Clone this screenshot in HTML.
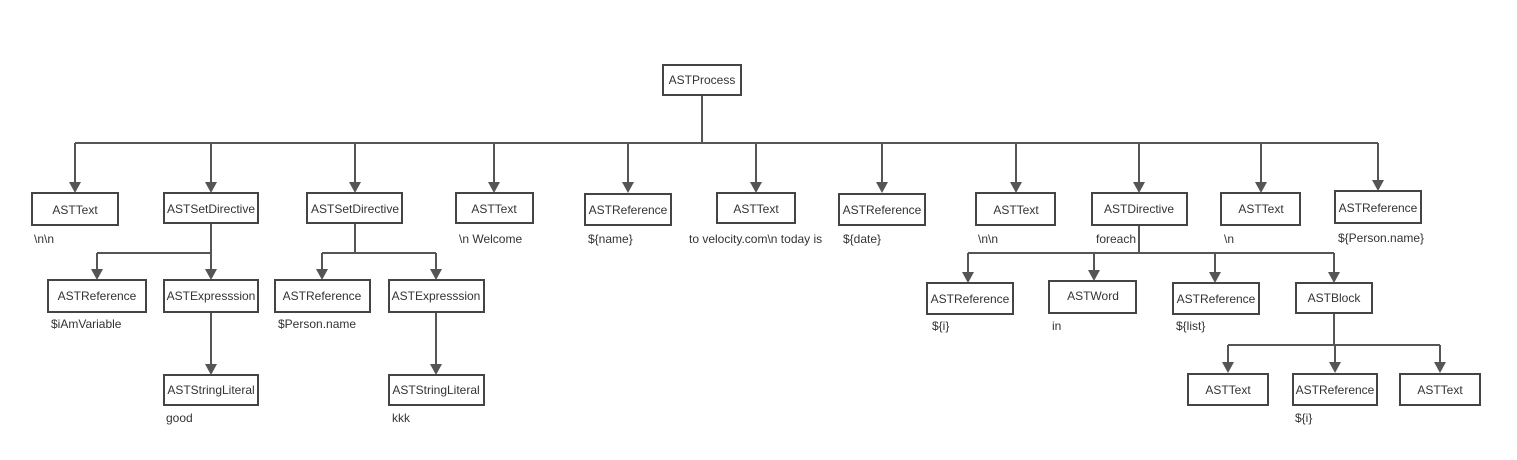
<!DOCTYPE html>
<html><head><meta charset="utf-8"><style>
html,body{margin:0;padding:0;background:#fff;}
svg{display:block;}
text{font-family:"Liberation Sans",sans-serif;font-size:12px;fill:#333;}
.b{fill:#fff;stroke:#444;stroke-width:2;}
.l{stroke:#555;stroke-width:2;fill:none;}
.a{fill:#555;}
</style></head><body>
<svg width="1517" height="460" viewBox="0 0 1517 460" xmlns="http://www.w3.org/2000/svg">
<!-- connectors -->
<g class="l">
<path d="M702 95V143M75 143H1378"/>
<path d="M75 143V183M211 143V183M355 143V183M494 143V183M628 143V183M756 143V183M882 143V183M1016 143V183M1139 143V183M1261 143V183M1378 143V181"/>
<path d="M211 223V253M97 253H211M97 253V270M211 253V270M211 312V365"/>
<path d="M355 223V253M322 253H436M322 253V270M436 253V270M436 312V365"/>
<path d="M1139 225V253M968 253H1334M968 253V273M1094 253V271M1215 253V273M1334 253V273"/>
<path d="M1334 313V345M1228 345H1440M1228 345V363M1335 345V363M1440 345V363"/>
</g>
<g class="a">
<path d="M69 182h12l-6 11z"/><path d="M205 182h12l-6 11z"/><path d="M349 182h12l-6 11z"/><path d="M488 182h12l-6 11z"/><path d="M622 182h12l-6 11z"/><path d="M750 182h12l-6 11z"/><path d="M876 182h12l-6 11z"/><path d="M1010 182h12l-6 11z"/><path d="M1133 182h12l-6 11z"/><path d="M1255 182h12l-6 11z"/><path d="M1372 180h12l-6 11z"/>
<path d="M91 269h12l-6 11z"/><path d="M205 269h12l-6 11z"/><path d="M205 364h12l-6 11z"/>
<path d="M316 269h12l-6 11z"/><path d="M430 269h12l-6 11z"/><path d="M430 364h12l-6 11z"/>
<path d="M962 272h12l-6 11z"/><path d="M1088 270h12l-6 11z"/><path d="M1209 272h12l-6 11z"/><path d="M1328 272h12l-6 11z"/>
<path d="M1222 362h12l-6 11z"/><path d="M1329 362h12l-6 11z"/><path d="M1434 362h12l-6 11z"/>
</g>
<!-- boxes -->
<rect class="b" x="663" y="65" width="78" height="30"/><text x="702" y="84" text-anchor="middle">ASTProcess</text>
<rect class="b" x="32" y="193" width="86" height="32"/><text x="75" y="214" text-anchor="middle">ASTText</text>
<rect class="b" x="164" y="193" width="94" height="30"/><text x="211" y="213" text-anchor="middle">ASTSetDirective</text>
<rect class="b" x="307" y="193" width="95" height="30"/><text x="355" y="213" text-anchor="middle">ASTSetDirective</text>
<rect class="b" x="456" y="193" width="77" height="30"/><text x="494" y="213" text-anchor="middle">ASTText</text>
<rect class="b" x="585" y="194" width="86" height="31"/><text x="628" y="214" text-anchor="middle">ASTReference</text>
<rect class="b" x="717" y="193" width="78" height="30"/><text x="756" y="213" text-anchor="middle">ASTText</text>
<rect class="b" x="839" y="194" width="86" height="31"/><text x="882" y="214" text-anchor="middle">ASTReference</text>
<rect class="b" x="976" y="193" width="79" height="32"/><text x="1016" y="214" text-anchor="middle">ASTText</text>
<rect class="b" x="1092" y="193" width="95" height="32"/><text x="1139" y="213" text-anchor="middle">ASTDirective</text>
<rect class="b" x="1221" y="193" width="79" height="32"/><text x="1261" y="213" text-anchor="middle">ASTText</text>
<rect class="b" x="1335" y="191" width="86" height="32"/><text x="1378" y="212" text-anchor="middle">ASTReference</text>

<rect class="b" x="48" y="280" width="98" height="32"/><text x="97" y="300" text-anchor="middle">ASTReference</text>
<rect class="b" x="164" y="280" width="94" height="32"/><text x="211" y="300" text-anchor="middle">ASTExpresssion</text>
<rect class="b" x="164" y="375" width="94" height="30"/><text x="211" y="394" text-anchor="middle">ASTStringLiteral</text>
<rect class="b" x="275" y="280" width="95" height="32"/><text x="322" y="300" text-anchor="middle">ASTReference</text>
<rect class="b" x="389" y="280" width="95" height="32"/><text x="436" y="300" text-anchor="middle">ASTExpresssion</text>
<rect class="b" x="389" y="375" width="95" height="30"/><text x="436" y="394" text-anchor="middle">ASTStringLiteral</text>

<rect class="b" x="927" y="283" width="86" height="31"/><text x="970" y="303" text-anchor="middle">ASTReference</text>
<rect class="b" x="1049" y="281" width="87" height="32"/><text x="1093" y="300" text-anchor="middle">ASTWord</text>
<rect class="b" x="1173" y="283" width="86" height="31"/><text x="1216" y="303" text-anchor="middle">ASTReference</text>
<rect class="b" x="1296" y="283" width="76" height="30"/><text x="1334" y="302" text-anchor="middle">ASTBlock</text>

<rect class="b" x="1188" y="374" width="80" height="31"/><text x="1228" y="394" text-anchor="middle">ASTText</text>
<rect class="b" x="1293" y="374" width="84" height="31"/><text x="1335" y="394" text-anchor="middle">ASTReference</text>
<rect class="b" x="1400" y="374" width="80" height="31"/><text x="1440" y="394" text-anchor="middle">ASTText</text>

<!-- labels -->
<text x="34" y="243">\n\n</text>
<text x="459" y="243">\n Welcome</text>
<text x="588" y="243">${name}</text>
<text x="689" y="243">to velocity.com\n today is</text>
<text x="843" y="243">${date}</text>
<text x="978" y="243">\n\n</text>
<text x="1096" y="243">foreach</text>
<text x="1224" y="243">\n</text>
<text x="1338" y="242">${Person.name}</text>
<text x="51" y="328">$iAmVariable</text>
<text x="278" y="328">$Person.name</text>
<text x="166" y="422">good</text>
<text x="392" y="422">kkk</text>
<text x="932" y="330">${i}</text>
<text x="1052" y="330">in</text>
<text x="1176" y="330">${list}</text>
<text x="1295" y="422">${i}</text>
</svg>
</body></html>
